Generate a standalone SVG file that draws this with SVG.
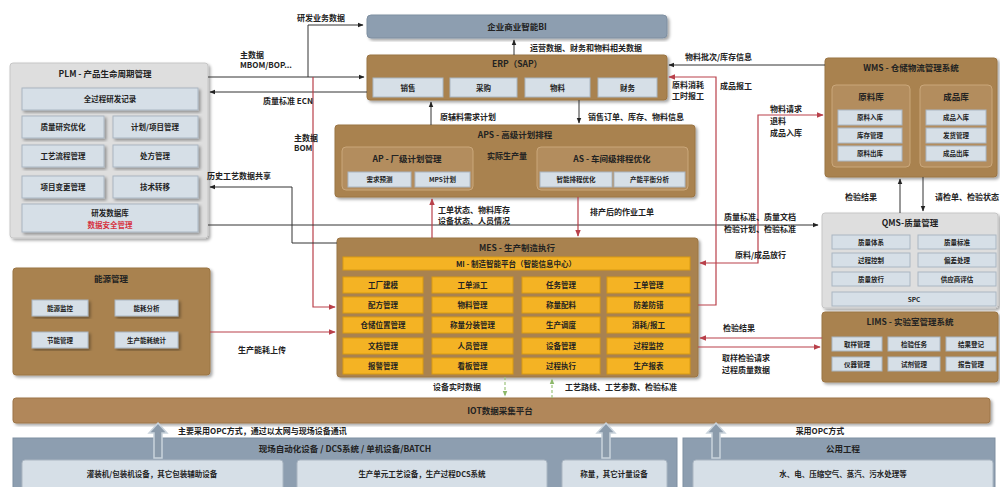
<svg xmlns="http://www.w3.org/2000/svg" width="1000" height="487" viewBox="0 0 1000 487">
<style>
text{font-family:"Noto Sans CJK SC","Noto Sans",sans-serif;fill:#222;font-weight:bold}
.lb{font-size:8px}
.ti{font-size:8.5px;text-anchor:middle}
.it{font-size:7.5px;text-anchor:middle}
.sm{font-size:6.5px;text-anchor:middle}
.brown{fill:#a9824f;stroke:#9a7444;stroke-width:1}
.sub{fill:#b38d5e;stroke:#caa77a;stroke-width:1}
.gray{fill:#dedede;stroke:#c6c6c6;stroke-width:1}
.lite{fill:#d6dfe7;stroke:#aab6c2;stroke-width:1}
.yel{fill:#f4b324;stroke:#d99a12;stroke-width:1}
.slate{fill:#8d9eb0;stroke:#7e8fa1;stroke-width:1}
.k{fill:none;stroke:#333;stroke-width:1}
.r{fill:none;stroke:#b9404a;stroke-width:1.2}
.g{fill:none;stroke:#9cc47c;stroke-width:1.2;stroke-dasharray:3,2}
.bigar{fill:#8b9bab;stroke:#c9d3dc;stroke-width:1.5}
</style>
<defs>
<filter id="sh" x="-5%" y="-5%" width="115%" height="120%"><feDropShadow dx="2" dy="2" stdDeviation="1.5" flood-color="#000" flood-opacity="0.35"/></filter>
<marker id="ak" viewBox="0 0 10 10" refX="9" refY="5" markerWidth="6" markerHeight="6" orient="auto-start-reverse"><path d="M0,1 L10,5 L0,9 z" fill="#222"/></marker>
<marker id="ar" viewBox="0 0 10 10" refX="9" refY="5" markerWidth="6" markerHeight="6" orient="auto-start-reverse"><path d="M0,1 L10,5 L0,9 z" fill="#b9404a"/></marker>
<marker id="ag" viewBox="0 0 10 10" refX="9" refY="5" markerWidth="5" markerHeight="5" orient="auto-start-reverse"><path d="M0,1 L10,5 L0,9 z" fill="#8cb86a"/></marker>
</defs>
<rect width="1000" height="487" fill="#fff"/>

<g id="bi">
<rect x="367" y="15" width="300" height="23" rx="4" class="slate" filter="url(#sh)"/>
<text class="ti" x="517" y="30">企业商业智能BI</text>
</g>

<g id="plm">
<rect x="10" y="63" width="198" height="175" rx="3" class="gray" filter="url(#sh)"/>
<text class="ti" x="105" y="77">PLM - 产品生命周期管理</text>
<rect x="22" y="88" width="176" height="22" class="lite" filter="url(#sh)"/>
<text class="it" x="110" y="102">全过程研发记录</text>
<rect x="22" y="116" width="82" height="22" class="lite" filter="url(#sh)"/>
<text class="it" x="63" y="130">质量研究优化</text>
<rect x="113" y="116" width="85" height="22" class="lite" filter="url(#sh)"/>
<text class="it" x="155" y="130">计划/项目管理</text>
<rect x="22" y="145" width="82" height="22" class="lite" filter="url(#sh)"/>
<text class="it" x="63" y="159">工艺流程管理</text>
<rect x="113" y="145" width="85" height="22" class="lite" filter="url(#sh)"/>
<text class="it" x="155" y="159">处方管理</text>
<rect x="22" y="176" width="82" height="22" class="lite" filter="url(#sh)"/>
<text class="it" x="63" y="190">项目变更管理</text>
<rect x="113" y="176" width="85" height="22" class="lite" filter="url(#sh)"/>
<text class="it" x="155" y="190">技术转移</text>
<rect x="22" y="204" width="176" height="28" class="lite" filter="url(#sh)"/>
<text class="it" x="110" y="216">研发数据库</text>
<text class="it" x="110" y="228" style="fill:#d6333f">数据安全管理</text>
</g>

<g id="erp">
<rect x="367" y="55" width="300" height="45" rx="3" class="brown" filter="url(#sh)"/>
<text class="ti" x="517" y="67">ERP（SAP）</text>
<rect x="373" y="78" width="70" height="19" class="lite"/>
<text class="it" x="408" y="90.5">销售</text>
<rect x="450" y="78" width="67" height="19" class="lite"/>
<text class="it" x="483.5" y="90.5">采购</text>
<rect x="525" y="78" width="65" height="19" class="lite"/>
<text class="it" x="557.5" y="90.5">物料</text>
<rect x="598" y="78" width="59" height="19" class="lite"/>
<text class="it" x="627.5" y="90.5">财务</text>
</g>

<g id="aps">
<rect x="335" y="125" width="360" height="72" rx="3" class="brown" filter="url(#sh)"/>
<text class="ti" x="515" y="138">APS - 高级计划排程</text>
<rect x="342" y="147" width="131" height="43" rx="4" class="sub"/>
<text class="ti" x="407" y="162">AP - 厂级计划管理</text>
<rect x="348" y="172" width="63" height="15" class="lite"/>
<text class="sm" x="379.5" y="182">需求预测</text>
<rect x="415" y="172" width="55" height="15" class="lite"/>
<text class="sm" x="442.5" y="182">MPS计划</text>
<rect x="537" y="147" width="151" height="43" rx="4" class="sub"/>
<text class="ti" x="612" y="162">AS - 车间级排程优化</text>
<rect x="540" y="172" width="72" height="15" class="lite"/>
<text class="sm" x="576" y="182">智能排程优化</text>
<rect x="614" y="172" width="71" height="15" class="lite"/>
<text class="sm" x="649.5" y="182">产能平衡分析</text>
<text class="lb" x="507" y="159" text-anchor="middle">实际生产量</text>
</g>

<g id="mes">
<rect x="337" y="238" width="361" height="139" rx="3" class="brown" filter="url(#sh)"/>
<text class="ti" x="517" y="251">MES - 生产制造执行</text>
<rect x="343" y="257" width="347" height="13" class="yel"/>
<text class="it" x="516" y="266.5">MI - 制造智能平台（智能信息中心）</text>
<g class="cells">
<rect x="343" y="277" width="80" height="16" class="yel"/><text class="it" x="383" y="288">工厂建模</text>
<rect x="432" y="277" width="81" height="16" class="yel"/><text class="it" x="472.5" y="288">工单派工</text>
<rect x="522" y="277" width="78" height="16" class="yel"/><text class="it" x="561" y="288">任务管理</text>
<rect x="607" y="277" width="83" height="16" class="yel"/><text class="it" x="648.5" y="288">工单管理</text>
<rect x="343" y="297" width="80" height="16" class="yel"/><text class="it" x="383" y="308">配方管理</text>
<rect x="432" y="297" width="81" height="16" class="yel"/><text class="it" x="472.5" y="308">物料管理</text>
<rect x="522" y="297" width="78" height="16" class="yel"/><text class="it" x="561" y="308">称量配料</text>
<rect x="607" y="297" width="83" height="16" class="yel"/><text class="it" x="648.5" y="308">防差防错</text>
<rect x="343" y="317" width="80" height="16" class="yel"/><text class="it" x="383" y="328">仓储位置管理</text>
<rect x="432" y="317" width="81" height="16" class="yel"/><text class="it" x="472.5" y="328">称量分装管理</text>
<rect x="522" y="317" width="78" height="16" class="yel"/><text class="it" x="561" y="328">生产调度</text>
<rect x="607" y="317" width="83" height="16" class="yel"/><text class="it" x="648.5" y="328">消耗/报工</text>
<rect x="343" y="338" width="80" height="16" class="yel"/><text class="it" x="383" y="349">文档管理</text>
<rect x="432" y="338" width="81" height="16" class="yel"/><text class="it" x="472.5" y="349">人员管理</text>
<rect x="522" y="338" width="78" height="16" class="yel"/><text class="it" x="561" y="349">设备管理</text>
<rect x="607" y="338" width="83" height="16" class="yel"/><text class="it" x="648.5" y="349">过程监控</text>
<rect x="343" y="358" width="80" height="16" class="yel"/><text class="it" x="383" y="369">报警管理</text>
<rect x="432" y="358" width="81" height="16" class="yel"/><text class="it" x="472.5" y="369">看板管理</text>
<rect x="522" y="358" width="78" height="16" class="yel"/><text class="it" x="561" y="369">过程执行</text>
<rect x="607" y="358" width="83" height="16" class="yel"/><text class="it" x="648.5" y="369">生产报表</text>
</g>
</g>

<g id="energy">
<rect x="13" y="268" width="197" height="107" rx="3" class="brown" filter="url(#sh)"/>
<text class="ti" x="111" y="282">能源管理</text>
<rect x="32" y="300" width="56" height="16" class="lite" filter="url(#sh)"/>
<text class="sm" x="60" y="310.5">能源监控</text>
<rect x="115" y="300" width="63" height="16" class="lite" filter="url(#sh)"/>
<text class="sm" x="146.5" y="310.5">能耗分析</text>
<rect x="32" y="332" width="56" height="16" class="lite" filter="url(#sh)"/>
<text class="sm" x="60" y="342.5">节能管理</text>
<rect x="115" y="332" width="63" height="16" class="lite" filter="url(#sh)"/>
<text class="sm" x="146.5" y="342.5">生产能耗统计</text>
</g>

<g id="wms">
<rect x="825" y="58" width="172" height="119" rx="3" class="brown" filter="url(#sh)"/>
<text class="ti" x="911" y="71">WMS - 仓储物流管理系统</text>
<rect x="832" y="85" width="78" height="82" rx="4" class="sub"/>
<text class="ti" x="871" y="100">原料库</text>
<rect x="838" y="110" width="64" height="15" class="lite"/><text class="sm" x="870" y="120">原料入库</text>
<rect x="838" y="128" width="64" height="15" class="lite"/><text class="sm" x="870" y="138">库存管理</text>
<rect x="838" y="146" width="64" height="15" class="lite"/><text class="sm" x="870" y="156">原料出库</text>
<rect x="920" y="85" width="72" height="82" rx="4" class="sub"/>
<text class="ti" x="956" y="100">成品库</text>
<rect x="926" y="110" width="60" height="15" class="lite"/><text class="sm" x="956" y="120">成品入库</text>
<rect x="926" y="128" width="60" height="15" class="lite"/><text class="sm" x="956" y="138">发货管理</text>
<rect x="926" y="146" width="60" height="15" class="lite"/><text class="sm" x="956" y="156">成品出库</text>
</g>

<g id="qms">
<rect x="822" y="213" width="176" height="95" rx="3" class="gray" filter="url(#sh)"/>
<text class="ti" x="910" y="226">QMS-质量管理</text>
<rect x="832" y="235" width="78" height="14" class="lite"/><text class="sm" x="871" y="244.5">质量体系</text>
<rect x="918" y="235" width="78" height="14" class="lite"/><text class="sm" x="957" y="244.5">质量标准</text>
<rect x="832" y="253" width="78" height="14" class="lite"/><text class="sm" x="871" y="262.5">过程控制</text>
<rect x="918" y="253" width="78" height="14" class="lite"/><text class="sm" x="957" y="262.5">偏差处理</text>
<rect x="832" y="272" width="78" height="14" class="lite"/><text class="sm" x="871" y="281.5">质量放行</text>
<rect x="918" y="272" width="78" height="14" class="lite"/><text class="sm" x="957" y="281.5">供应商评估</text>
<rect x="832" y="292" width="164" height="14" class="lite"/><text class="sm" x="914" y="301.5">SPC</text>
</g>

<g id="lims">
<rect x="822" y="312" width="176" height="70" rx="3" class="brown" filter="url(#sh)"/>
<text class="ti" x="910" y="325">LIMS - 实验室管理系统</text>
<rect x="832" y="337" width="50" height="14" class="lite"/><text class="sm" x="857" y="346.5">取样管理</text>
<rect x="888" y="337" width="52" height="14" class="lite"/><text class="sm" x="914" y="346.5">检验任务</text>
<rect x="946" y="337" width="50" height="14" class="lite"/><text class="sm" x="971" y="346.5">结果登记</text>
<rect x="832" y="357" width="50" height="14" class="lite"/><text class="sm" x="857" y="366.5">仪器管理</text>
<rect x="888" y="357" width="52" height="14" class="lite"/><text class="sm" x="914" y="366.5">试剂管理</text>
<rect x="946" y="357" width="50" height="14" class="lite"/><text class="sm" x="971" y="366.5">报告管理</text>
</g>

<g id="iot">
<rect x="13" y="398" width="977" height="25" rx="3" fill="#b1875a" stroke="#9c7548" filter="url(#sh)"/>
<text class="ti" x="500" y="414">IOT数据采集平台</text>
</g>

<g id="field">
<rect x="13" y="438" width="664" height="55" class="slate"/>
<text class="ti" x="345" y="452">现场自动化设备 / DCS系统 / 单机设备/BATCH</text>
<rect x="22" y="460" width="261" height="32" rx="3" class="lite"/>
<text class="it" x="152" y="477">灌装机/包装机设备，其它包装辅助设备</text>
<rect x="297" y="460" width="250" height="32" rx="3" class="lite"/>
<text class="it" x="422" y="477">生产单元工艺设备，生产过程DCS系统</text>
<rect x="562" y="460" width="105" height="32" rx="3" class="lite"/>
<text class="it" x="614" y="477">称量，其它计量设备</text>
</g>

<g id="utility">
<rect x="683" y="438" width="312" height="55" class="slate"/>
<text class="ti" x="843" y="452">公用工程</text>
<rect x="693" y="460" width="300" height="32" rx="3" class="lite"/>
<text class="it" x="843" y="477">水、电、压缩空气、蒸汽、污水处理等</text>
</g>

<g id="connectors">
<path class="k" d="M308,77 V25 H363" marker-end="url(#ak)"/>
<path class="k" d="M208,77 H364" marker-end="url(#ak)"/>
<path class="k" d="M367,92 H210" marker-end="url(#ak)"/>
<path class="r" d="M313,77 V307 H335" marker-end="url(#ar)"/>
<path class="k" d="M337,243 H292 V187 H210" marker-end="url(#ak)"/>
<path class="k" d="M208,225 H818" marker-end="url(#ak)"/>
<path class="r" d="M210,332 H335" marker-end="url(#ar)"/>
<path class="k" d="M431,125 V102" marker-end="url(#ak)"/>
<path class="k" d="M579,100 V123" marker-end="url(#ak)"/>
<path class="k" d="M514,55 V40" marker-end="url(#ak)"/>
<path class="k" d="M825,65 H669" marker-end="url(#ak)"/>
<path class="r" d="M698,305 H716 V77 H669" marker-end="url(#ar)"/>
<path class="r" d="M700,263 H758 V115 H823" marker-start="url(#ar)" marker-end="url(#ar)"/>
<path class="k" d="M900,213 V179" marker-end="url(#ak)"/>
<path class="k" d="M923,177 V211" marker-end="url(#ak)"/>
<path class="r" d="M432,238 V199" marker-end="url(#ar)"/>
<path class="r" d="M578,197 V236" marker-end="url(#ar)"/>
<path class="r" d="M822,338 H700" marker-end="url(#ar)"/>
<path class="r" d="M698,347 H820" marker-end="url(#ar)"/>
<path class="g" d="M505,377 V396" marker-end="url(#ag)"/>
<path class="g" d="M552,398 V379" marker-end="url(#ag)"/>
<polygon class="bigar" points="158,423 167,433 162,433 162,458 154,458 154,433 149,433"/>
<polygon class="bigar" points="606,423 615,433 610,433 610,458 602,458 602,433 597,433"/>
<polygon class="bigar" points="716,423 725,433 720,433 720,458 712,458 712,433 707,433"/>
</g>

<g id="labels">
<text class="lb" x="297" y="21">研发业务数据</text>
<text class="lb" x="240" y="58">主数据</text>
<text class="lb" x="240" y="68">MBOM/BOP...</text>
<text class="lb" x="263" y="104">质量标准 ECN</text>
<text class="lb" x="294" y="141">主数据</text>
<text class="lb" x="294" y="151">BOM</text>
<text class="lb" x="207" y="179">历史工艺数据共享</text>
<text class="lb" x="238" y="353">生产能耗上传</text>
<text class="lb" x="440" y="120">原辅料需求计划</text>
<text class="lb" x="588" y="120">销售订单、库存、物料信息</text>
<text class="lb" x="530" y="51">运营数据、财务和物料相关数据</text>
<text class="lb" x="685" y="60">物料批次/库存信息</text>
<text class="lb" x="672" y="88">原料消耗</text>
<text class="lb" x="672" y="99">工时报工</text>
<text class="lb" x="720" y="89">成品报工</text>
<text class="lb" x="770" y="112">物料请求</text>
<text class="lb" x="770" y="124">退料</text>
<text class="lb" x="770" y="136">成品入库</text>
<text class="lb" x="845" y="200">检验结果</text>
<text class="lb" x="935" y="200">请检单、检验状态</text>
<text class="lb" x="438" y="213">工单状态、物料库存</text>
<text class="lb" x="438" y="224">设备状态、人员情况</text>
<text class="lb" x="590" y="215">排产后的作业工单</text>
<text class="lb" x="724" y="220">质量标准、质量文档</text>
<text class="lb" x="724" y="232">检验计划、检验标准</text>
<text class="lb" x="735" y="258">原料/成品放行</text>
<text class="lb" x="723" y="331">检验结果</text>
<text class="lb" x="722" y="361">取样检验请求</text>
<text class="lb" x="722" y="373">过程质量数据</text>
<text class="lb" x="433" y="390">设备实时数据</text>
<text class="lb" x="565" y="390">工艺路线、工艺参数、检验标准</text>
<text class="lb" x="178" y="434">主要采用OPC方式，通过以太网与现场设备通讯</text>
<text class="lb" x="820" y="434" text-anchor="middle">采用OPC方式</text>
</g>
</svg>
